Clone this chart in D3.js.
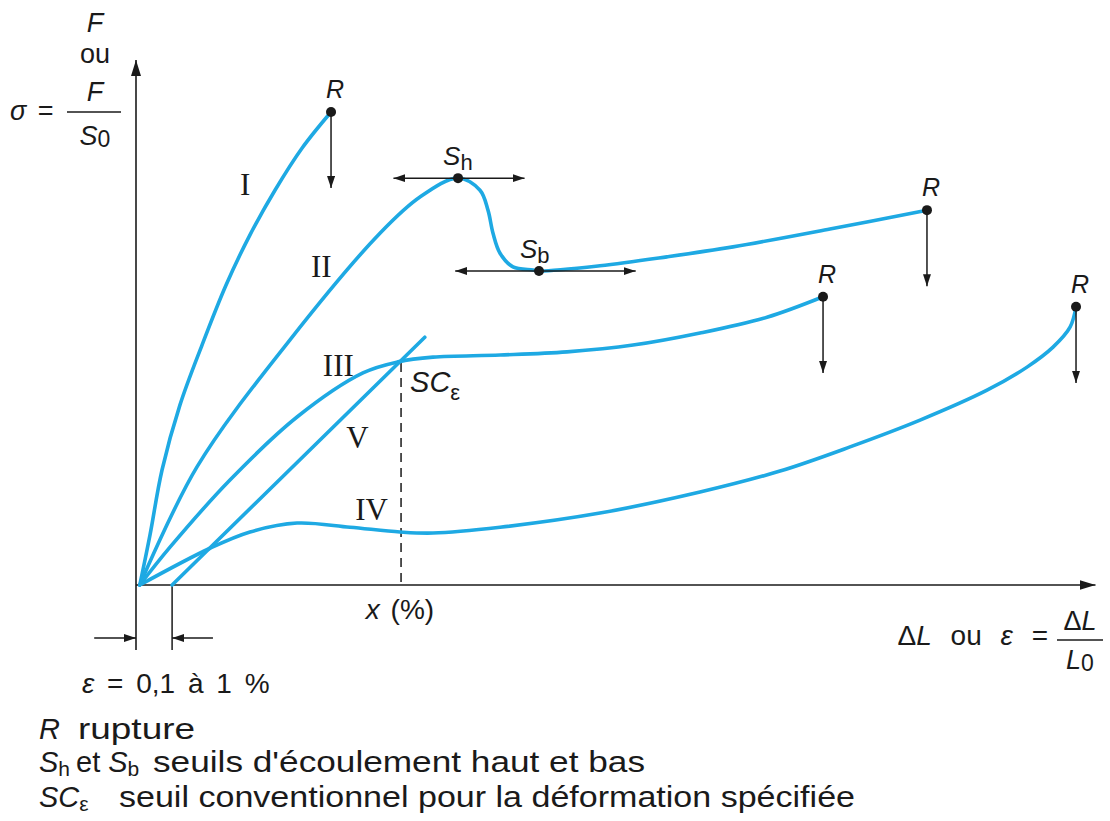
<!DOCTYPE html>
<html>
<head>
<meta charset="utf-8">
<script src="https://cdn.jsdelivr.net/npm/d3@7"></script>
<style>
  body { margin: 0; background: #fff; }
  svg { display: block; }
  text { fill: #1a1a1a; }
</style>
</head>
<body>
<script>
// curves : [strain, stress] in arbitrary units (0..100)
var curveI   = [[0.4,0],[1.47,9.5],[2.74,21.9],[4.63,34.3],[6.95,45.7],[9.47,57.1],[12,66.7],[14.63,75.2],
                [17.47,83.2],[20.53,90.1]];
var curveII  = [[0.4,0],[6.42,22.5],[16.21,46.7],[25.68,67],[29.89,73.9],[33.9,77.5],
                [36.21,75.2],[37.05,71.4],[37.58,67],[38.32,63.2],[39.68,60.6],[41.79,60],[42.42,59.8],
                [48.84,60.8],[55.89,62.5],[62.84,64.4],[73.05,67.8],[83.26,71.4]];
var curveIII = [[0.4,0],[3.58,7.2],[9.89,20],[16.95,32],[23.89,40.4],[27.58,42.5],
                [31.26,43.4],[38.32,43.8],[45.37,44.4],[52.32,45.7],[59.37,48],[66.42,51],[72.32,54.9]];
var curveIV  = [[0.4,0],[7.79,7],[12,10.1],[16.95,11.8],[22.53,11],[27.79,10.1],[31.26,9.9],[38.32,11],
                [48.84,13.7],[59.37,17.7],[67.79,21.7],[75.16,26.3],[82.53,31.4],[89.58,37.1],[93.79,41.5],
                [96.53,45.3],[98.32,49.1],[98.95,53]];
var lineV    = [[3.8,0],[30.4,47.2]];

var ruptures = [[20.53,90.1],[83.26,71.4],[72.32,54.9],[98.95,53]];
var Sh = [33.9,77.5], Sb = [42.42,59.8];
var xPct = 27.9, epsOffset = 3.8;

var romanLabels = [["I",11.5,74.3],["II",19.5,58.7],["III",21.3,39.8],["V",23.3,26.1],["IV",24.8,12.4]];

var legendRows = [
  {sym:"R", sub:"", text:"rupture"},
  {sym:"S", sub:"h", text:"seuils d'écoulement haut et bas"},
  {sym:"SC", sub:"ε", text:"seuil conventionnel pour la déformation spécifiée"}
];

var width = 1110, height = 821;
var blue = "#1ea9e3";
var ink = "#1a1a1a";
var sans = "'Liberation Sans', Arial, sans-serif";

var svg = d3.select("body").append("svg")
  .attr("width", width).attr("height", height);

var x = d3.scaleLinear().domain([0,100]).range([136,1086]);
var y = d3.scaleLinear().domain([0,100]).range([585,60]);

var defs = svg.append("defs");
defs.append("marker").attr("id","big")
  .attr("viewBox","0 0 16 10").attr("refX",16).attr("refY",5)
  .attr("markerWidth",16).attr("markerHeight",10).attr("markerUnits","userSpaceOnUse")
  .attr("orient","auto")
  .append("path").attr("d","M0,0 L16,5 L0,10 Z").attr("fill",ink);
defs.append("marker").attr("id","small")
  .attr("viewBox","0 0 12 8").attr("refX",12).attr("refY",4)
  .attr("markerWidth",12).attr("markerHeight",8).attr("markerUnits","userSpaceOnUse")
  .attr("orient","auto")
  .append("path").attr("d","M0,0 L12,4 L0,8 Z").attr("fill",ink);

function seg(x1,y1,x2,y2,mk,w){
  var l = svg.append("line")
    .attr("x1",x(x1)).attr("y1",y(y1)).attr("x2",x(x2)).attr("y2",y(y2))
    .attr("stroke",ink).attr("stroke-width",w||1.5);
  if (mk) l.attr("marker-end","url(#"+mk+")");
  return l;
}

// axes
seg(0,-12.4,0,100,"big",1.6);
seg(0,0,101,0,"big",1.6);
// strain offset dimension
seg(epsOffset,0,epsOffset,-12.4,null,1.5);
seg(-4.4,-10.1,0,-10.1,"small",1.5);
seg(8.1,-10.1,epsOffset,-10.1,"small",1.5);

// dashed SC line
svg.append("line")
  .attr("x1",x(xPct)).attr("y1",y(42.3)).attr("x2",x(xPct)).attr("y2",y(0.3))
  .attr("stroke",ink).attr("stroke-width",1.5).attr("stroke-dasharray","9,6");

var line = d3.line().x(function(d){return x(d[0]);}).y(function(d){return y(d[1]);})
  .curve(d3.curveCatmullRom.alpha(0.5));

svg.selectAll("path.curve")
  .data([curveI,curveII,curveIII,curveIV,lineV])
  .enter().append("path").attr("class","curve")
  .attr("d",line).attr("fill","none").attr("stroke",blue)
  .attr("stroke-width",3.6).attr("stroke-linecap","round");

// rupture arrows & yield arrows
ruptures.forEach(function(r){ seg(r[0],r[1],r[0],r[1]-14.5,"small",1.5); });
seg(Sh[0],Sh[1],27.1,Sh[1],"small",1.5);
seg(Sh[0],Sh[1],40.9,Sh[1],"small",1.5);
seg(Sb[0],Sb[1],33.6,Sb[1],"small",1.5);
seg(Sb[0],Sb[1],52.6,Sb[1],"small",1.5);

svg.selectAll("circle.pt")
  .data(ruptures.concat([Sh,Sb]))
  .enter().append("circle").attr("class","pt")
  .attr("cx",function(d){return x(d[0]);}).attr("cy",function(d){return y(d[1]);})
  .attr("r",5).attr("fill",ink);

svg.selectAll("text.r")
  .data(ruptures).enter().append("text").attr("class","r")
  .attr("x",function(d){return x(d[0])+4;}).attr("y",function(d){return y(d[1])-14;})
  .attr("text-anchor","middle")
  .style("font","italic 25px "+sans)
  .text("R");

svg.selectAll("text.roman")
  .data(romanLabels).enter().append("text").attr("class","roman")
  .attr("x",function(d){return x(d[1]);}).attr("y",function(d){return y(d[2]);})
  .attr("text-anchor","middle")
  .style("font","31px 'Liberation Serif', 'Times New Roman', serif")
  .text(function(d){return d[0];});

function subLabel(px,py,main,sub,size,subSize,drop){
  var t = svg.append("text").attr("x",px).attr("y",py)
    .style("font-family",sans).style("font-size",size+"px");
  t.append("tspan").style("font-style","italic").text(main);
  t.append("tspan").attr("dy",drop).style("font-size",subSize+"px").text(sub);
  return t;
}

subLabel(x(Sh[0])-15, y(Sh[1])-13, "S", "h", 26, 22, 5);
subLabel(x(Sb[0])-19, y(Sb[1])-13, "S", "b", 26, 22, 5);
subLabel(x(xPct)+9, y(42.5)+30, "SC", "ε", 29, 22, 8);

// y-axis title
svg.append("text").attr("x",95).attr("y",32).attr("text-anchor","middle")
  .style("font","italic 27px "+sans).text("F");
svg.append("text").attr("x",95).attr("y",63).attr("text-anchor","middle")
  .style("font","27px "+sans).text("ou");
var sg = svg.append("text").attr("x",10).attr("y",120).style("font","27px "+sans)
  .style("word-spacing","4px");
sg.append("tspan").style("font-style","italic").text("σ");
sg.append("tspan").text(" =");
svg.append("text").attr("x",95).attr("y",101).attr("text-anchor","middle")
  .style("font","italic 27px "+sans).text("F");
svg.append("line").attr("x1",67).attr("x2",121).attr("y1",112).attr("y2",112)
  .attr("stroke",ink).attr("stroke-width",1.5);
var s0 = svg.append("text").attr("x",95).attr("y",145).attr("text-anchor","middle")
  .style("font","27px "+sans);
s0.append("tspan").style("font-style","italic").text("S");
s0.append("tspan").attr("dy",2).style("font-size","23px").text("0");

// x (%)
var xp = svg.append("text").attr("x",400).attr("y",619).attr("text-anchor","middle")
  .style("font","28px "+sans).style("word-spacing","3px");
xp.append("tspan").style("font-style","italic").text("x");
xp.append("tspan").text(" (%)");

// x-axis title
var xt = svg.append("text").attr("x",1048).attr("y",645).attr("text-anchor","end")
  .style("font","28px "+sans).style("word-spacing","11px");
xt.append("tspan").text("Δ");
xt.append("tspan").style("font-style","italic").text("L");
xt.append("tspan").text(" ou ");
xt.append("tspan").style("font-style","italic").text("ε");
xt.append("tspan").text(" =");
var xn = svg.append("text").attr("x",1080).attr("y",630).attr("text-anchor","middle")
  .style("font","27px "+sans);
xn.append("tspan").text("Δ");
xn.append("tspan").style("font-style","italic").text("L");
svg.append("line").attr("x1",1057).attr("x2",1103).attr("y1",640).attr("y2",640)
  .attr("stroke",ink).attr("stroke-width",1.5);
var xd = svg.append("text").attr("x",1080).attr("y",669).attr("text-anchor","middle")
  .style("font","27px "+sans);
xd.append("tspan").style("font-style","italic").text("L");
xd.append("tspan").attr("dy",2).style("font-size","23px").text("0");

// epsilon range
var er = svg.append("text").attr("x",82).attr("y",693)
  .style("font","28px "+sans).style("word-spacing","5px");
er.append("tspan").style("font-style","italic").text("ε");
er.append("tspan").text(" = 0,1 à 1 %");

// legend
var lg = svg.append("g").style("font-family",sans).style("font-size","29px");
var rowY = [739, 772, 807], textX = [78, 153, 119], textW = [117, 492, 736];
legendRows.forEach(function(r,i){
  var t = lg.append("text").attr("x",39).attr("y",rowY[i]);
  t.append("tspan").style("font-style","italic").text(r.sym);
  if (r.sub) t.append("tspan").attr("dy",4).style("font-size","21px").text(r.sub);
  lg.append("text").attr("x",textX[i]).attr("y",rowY[i])
    .attr("textLength",textW[i]).attr("lengthAdjust","spacingAndGlyphs")
    .text(r.text);
});
// second symbol of row 2 (S_b) with the "et" joiner
var r2 = lg.append("text").attr("x",76).attr("y",rowY[1]);
r2.append("tspan").text("et ");
r2.append("tspan").style("font-style","italic").text("S");
r2.append("tspan").attr("dy",4).style("font-size","21px").text("b");
</script>
</body>
</html>
